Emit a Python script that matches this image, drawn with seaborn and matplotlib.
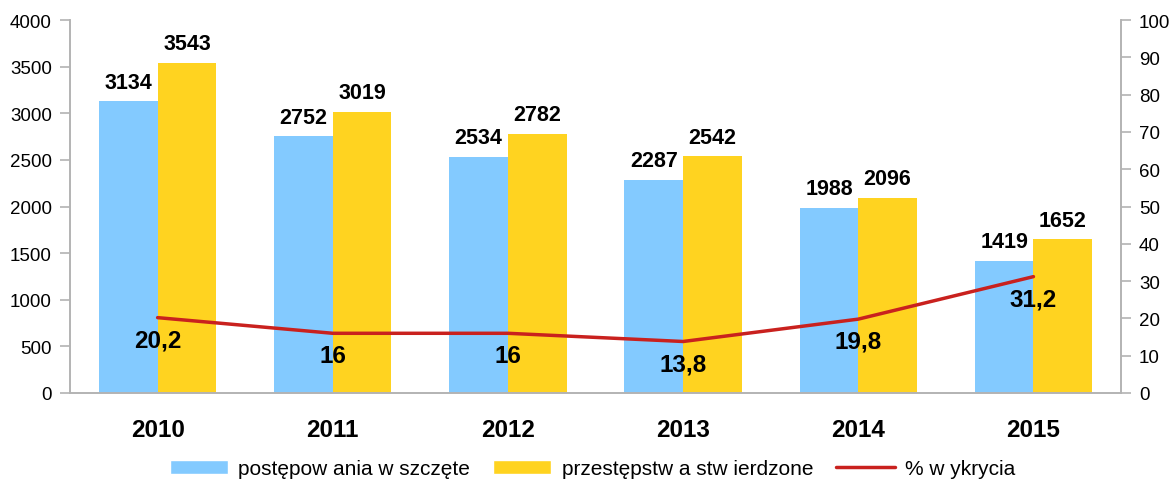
import numpy as np
import pandas as pd
import matplotlib
matplotlib.use("Agg")
import matplotlib.pyplot as plt
from matplotlib.patches import Patch
from matplotlib.lines import Line2D
import seaborn as sns

# data
years = ["2010", "2011", "2012", "2013", "2014", "2015"]
wszczete = [3134, 2752, 2534, 2287, 1988, 1419]
stwierdzone = [3543, 3019, 2782, 2542, 2096, 1652]
wykrycie = [20.2, 16, 16, 13.8, 19.8, 31.2]

series_names = ["postępow ania w szczęte", "przestępstw a stw ierdzone"]
line_name = "% w ykrycia"

blue = "#83CAFF"
yellow = "#FFD320"
red = "#C9211E"
grey = "#B3B3B3"

sns.set_style("white")
plt.rcParams["font.family"] = ["Liberation Sans", "DejaVu Sans"]
plt.rcParams["text.color"] = "black"
plt.rcParams["xtick.color"] = "black"
plt.rcParams["ytick.color"] = "black"

df = pd.DataFrame({
    "rok": years * 2,
    "liczba": wszczete + stwierdzone,
    "seria": [series_names[0]] * len(years) + [series_names[1]] * len(years),
})

fig = plt.figure(figsize=(11.73, 4.81), dpi=100)
ax = fig.add_axes([0.0597, 0.181, 0.896, 0.775])

sns.barplot(data=df, x="rok", y="liczba", hue="seria", order=years,
            hue_order=series_names, palette=[blue, yellow], width=0.67,
            saturation=1, linewidth=0, ax=ax)
ax.legend_.remove()

for cont in ax.containers:
    ax.bar_label(cont, padding=6, fontsize=15.5, fontweight="bold")

ax.set_xlim(-0.5, len(years) - 0.5)
ax.set_ylim(0, 4000)
ax.set_yticks(np.arange(0, 4001, 500))
ax.set_xlabel("")
ax.set_ylabel("")

# category ticks between groups, labels at centres
ax.set_xticks(np.arange(len(years)))
ax.set_xticklabels(years, fontsize=17.5, fontweight="bold")
ax.tick_params(axis="x", which="major", length=0, pad=18)
ax.set_xticks(np.arange(-0.5, len(years)), minor=True)
ax.tick_params(axis="x", which="minor", length=10, color=grey, width=1.2)
ax.tick_params(axis="y", length=7, color=grey, width=1.2, labelsize=13.5,
               pad=6, labelcolor="black")

for s in ["left", "bottom", "right"]:
    ax.spines[s].set_color(grey)
    ax.spines[s].set_linewidth(1.2)
ax.spines["top"].set_visible(False)

ax2 = ax.twinx()
sns.lineplot(x=np.arange(len(years)), y=wykrycie, color=red, linewidth=2.5, ax=ax2)
ax2.set_ylim(0, 100)
ax2.set_yticks(np.arange(0, 101, 10))
ax2.tick_params(axis="y", length=7, color=grey, width=1.2, labelsize=13.5,
                pad=6, labelcolor="black")
for s in ["left", "bottom", "right"]:
    ax2.spines[s].set_color(grey)
    ax2.spines[s].set_linewidth(1.2)
ax2.spines["top"].set_visible(False)

for i, v in enumerate(wykrycie):
    txt = f"{v:g}".replace(".", ",")
    ax2.annotate(txt, xy=(i, v), xytext=(0, -16), textcoords="offset points",
                 ha="center", va="center", fontsize=17.5, fontweight="bold")

handles = [
    Patch(facecolor=blue, label=series_names[0]),
    Patch(facecolor=yellow, label=series_names[1]),
    Line2D([0], [0], color=red, linewidth=2.5, label=line_name),
]
fig.legend(handles=handles, loc="lower center", bbox_to_anchor=(0.505, -0.035),
           ncol=3, frameon=False, fontsize=15, handlelength=2.8,
           handleheight=0.7, columnspacing=1.1, handletextpad=0.5)

fig.savefig("out.png", dpi=100)
